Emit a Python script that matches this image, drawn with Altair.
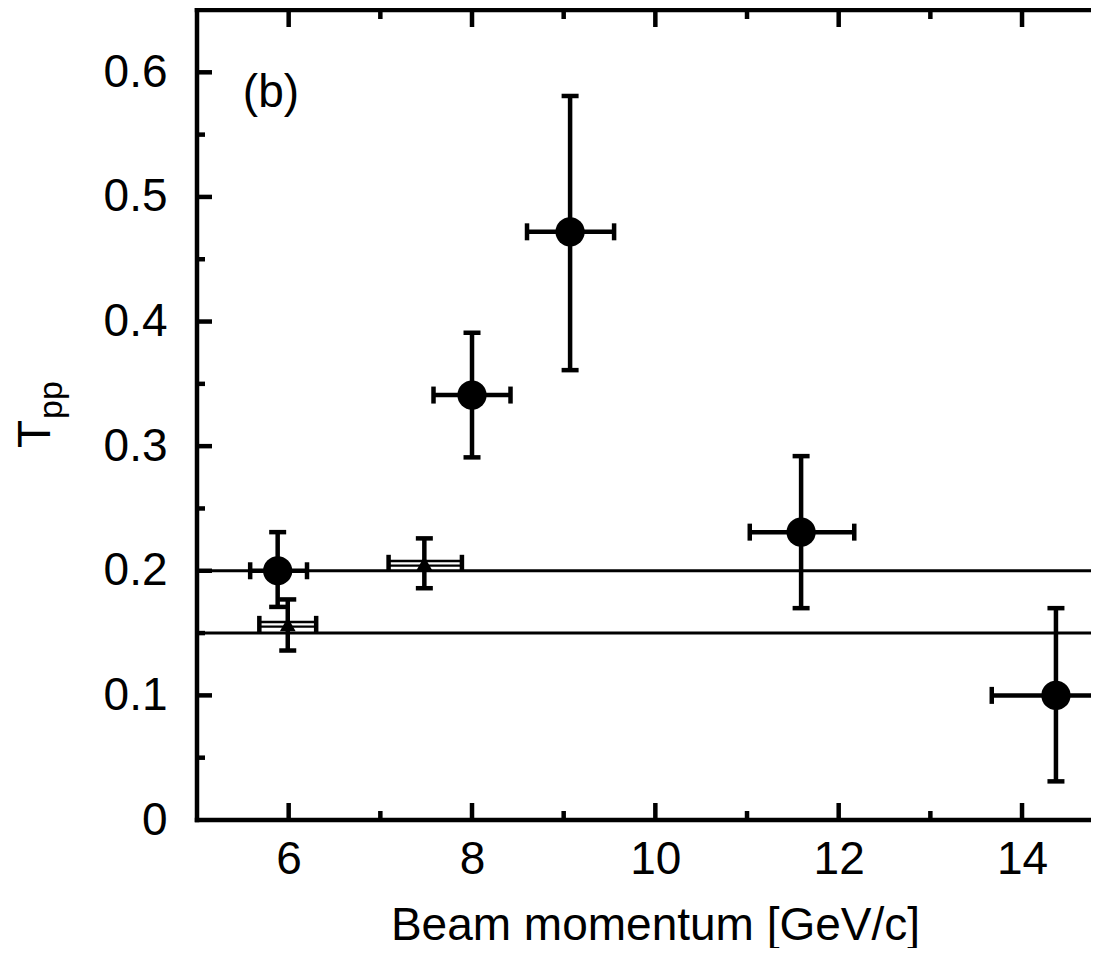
import altair as alt
import pandas as pd

# ---------------- data ----------------
circ_x = [5.88, 8.0, 9.07, 11.59, 14.37]
circ_y = [0.200, 0.341, 0.472, 0.231, 0.100]
circ_ylo = [0.171, 0.291, 0.361, 0.170, 0.031]
circ_yhi = [0.231, 0.391, 0.581, 0.292, 0.170]
circ_xlo = [5.58, 7.58, 8.60, 11.03, 13.67]
circ_xhi = [6.20, 8.42, 9.55, 12.17, 15.07]

tri_x = [5.99, 7.48]
tri_y = [0.157, 0.206]
tri_ylo = [0.136, 0.186]
tri_yhi = [0.177, 0.226]
tri_xlo = [5.68, 7.09]
tri_xhi = [6.30, 7.89]

hlines = [0.20, 0.15]

x_major = [6, 8, 10, 12, 14]
x_minor = [7, 9, 11, 13]
y_major = [0.1, 0.2, 0.3, 0.4, 0.5, 0.6]
y_minor = [0.05, 0.15, 0.25, 0.35, 0.45, 0.55]
y_labels = [0, 0.1, 0.2, 0.3, 0.4, 0.5, 0.6]

x_title = "Beam momentum [GeV/c]"
panel_label = "(b)"

# ---------------- layout ----------------
PX_PER_UNIT = 91.67
W = 894
H = 810
X_MAX = 5 + W / PX_PER_UNIT
FULL_W = 10 * PX_PER_UNIT  # right frame (x = 15), off page
FONT = "Liberation Sans"
LW = 4.5

circ = pd.DataFrame(dict(x=circ_x, y=circ_y, ylo=circ_ylo, yhi=circ_yhi, xlo=circ_xlo, xhi=circ_xhi))
tri = pd.DataFrame(dict(x=tri_x, y=tri_y, ylo=tri_ylo, yhi=tri_yhi, xlo=tri_xlo, xhi=tri_xhi))

xs = alt.Scale(domain=[5, X_MAX], nice=False, zero=False)
ys = alt.Scale(domain=[0, 0.65], nice=False, zero=False)

x_axis = alt.Axis(
    values=x_major, format="d", ticks=False, tickSize=0, domain=False, grid=False,
    labelFont=FONT, labelFontSize=46, labelColor="black", labelPadding=17,
    title=x_title, titleFont=FONT, titleFontSize=46, titleFontWeight="normal",
    titleColor="black", titleX=458, titleY=119, titleAlign="center",
    titleBaseline="alphabetic", titleAnchor="start")
y_axis = alt.Axis(
    values=y_labels, ticks=False, tickSize=0, domain=False, grid=False,
    labelExpr="datum.value == 0 ? '0' : format(datum.value, '.1f')",
    labelFont=FONT, labelFontSize=46, labelColor="black", labelPadding=30,
    title=None)


def X(f):
    return alt.X(f, type="quantitative", scale=xs, axis=x_axis, title=x_title)


def Y(f):
    return alt.Y(f, type="quantitative", scale=ys, axis=y_axis, title=None)


layers = []

# reference horizontal lines
layers.append(
    alt.Chart(pd.DataFrame({"h": hlines})).mark_rule(color="black", strokeWidth=3)
    .encode(y=Y("h"), x=alt.value(0), x2=alt.value(W))
)

# triangles: hollow x error bars
layers.append(alt.Chart(tri).mark_rule(color="black", strokeWidth=7).encode(x=X("xlo"), x2="xhi", y=Y("y")))
layers.append(alt.Chart(tri).mark_rule(color="white", strokeWidth=2.2).encode(x=X("xlo"), x2="xhi", y=Y("y")))

layers.append(alt.Chart(circ).mark_rule(color="black", strokeWidth=LW).encode(x=X("xlo"), x2="xhi", y=Y("y")))

for df in (circ, tri):
    layers.append(alt.Chart(df).mark_rule(color="black", strokeWidth=LW).encode(x=X("x"), y=Y("ylo"), y2="yhi"))
    for f in ("ylo", "yhi"):
        layers.append(
            alt.Chart(df).mark_tick(orient="horizontal", size=17, thickness=LW, color="black", opacity=1)
            .encode(x=X("x"), y=Y(f))
        )
    for f in ("xlo", "xhi"):
        layers.append(
            alt.Chart(df).mark_tick(orient="vertical", size=17, thickness=LW, color="black", opacity=1)
            .encode(x=X(f), y=Y("y"))
        )

# markers
layers.append(
    alt.Chart(circ).mark_point(shape="circle", filled=True, size=855, color="black", opacity=1)
    .encode(x=X("x"), y=Y("y"))
)
layers.append(
    alt.Chart(tri).mark_point(shape="triangle-up", filled=True, size=250, color="black", opacity=1)
    .encode(x=X("x"), y=Y("y"))
)

# frame (left, bottom, top)
frame_style = dict(color="black", strokeWidth=LW, strokeCap="square")
one = pd.DataFrame({"a": [0]})
layers.append(alt.Chart(one).mark_rule(**frame_style)
              .encode(x=alt.value(0), y=alt.value(0), y2=alt.value(H)))
layers.append(alt.Chart(one).mark_rule(**frame_style)
              .encode(y=alt.value(H), x=alt.value(0), x2=alt.value(W)))
layers.append(alt.Chart(one).mark_rule(**frame_style)
              .encode(y=alt.value(0), x=alt.value(0), x2=alt.value(W)))

# inward ticks
for vals, ln in ((x_major, 17), (x_minor, 9)):
    d = pd.DataFrame({"v": vals})
    layers.append(alt.Chart(d).mark_rule(color="black", strokeWidth=LW)
                  .encode(x=X("v"), y=alt.value(H), y2=alt.value(H - ln)))
    layers.append(alt.Chart(d).mark_rule(color="black", strokeWidth=LW)
                  .encode(x=X("v"), y=alt.value(0), y2=alt.value(ln)))
for vals, ln in ((y_major, 15), (y_minor, 8)):
    d = pd.DataFrame({"v": vals})
    layers.append(alt.Chart(d).mark_rule(color="black", strokeWidth=LW)
                  .encode(y=Y("v"), x=alt.value(0), x2=alt.value(ln)))
    layers.append(alt.Chart(d).mark_rule(color="black", strokeWidth=LW)
                  .encode(y=Y("v"), x=alt.value(FULL_W), x2=alt.value(FULL_W - ln - 3)))

# panel label
layers.append(
    alt.Chart(pd.DataFrame({"t": [panel_label], "x": [5.5], "y": [0.572]}))
    .mark_text(font=FONT, fontSize=46, align="left", baseline="alphabetic", color="black")
    .encode(x=X("x"), y=Y("y"), text="t:N")
)

# y title T_pp
layers.append(
    alt.Chart(pd.DataFrame({"t": ["T"]}))
    .mark_text(font=FONT, fontSize=46, angle=270, align="center", baseline="alphabetic", color="black")
    .encode(x=alt.value(-147), y=alt.value(424), text="t:N")
)
layers.append(
    alt.Chart(pd.DataFrame({"t": ["pp"]}))
    .mark_text(font=FONT, fontSize=34, angle=270, align="center", baseline="alphabetic", color="black")
    .encode(x=alt.value(-135), y=alt.value(390), text="t:N")
)

chart = alt.layer(*layers).properties(
    width=W, height=H,
    autosize=alt.AutoSizeParams(type="none"),
    padding={"left": 189, "top": 2, "right": 0, "bottom": 128},
).configure_view(stroke=None).configure(background="white")

chart.save("out.html", embed_options={"renderer": "svg", "actions": False})
